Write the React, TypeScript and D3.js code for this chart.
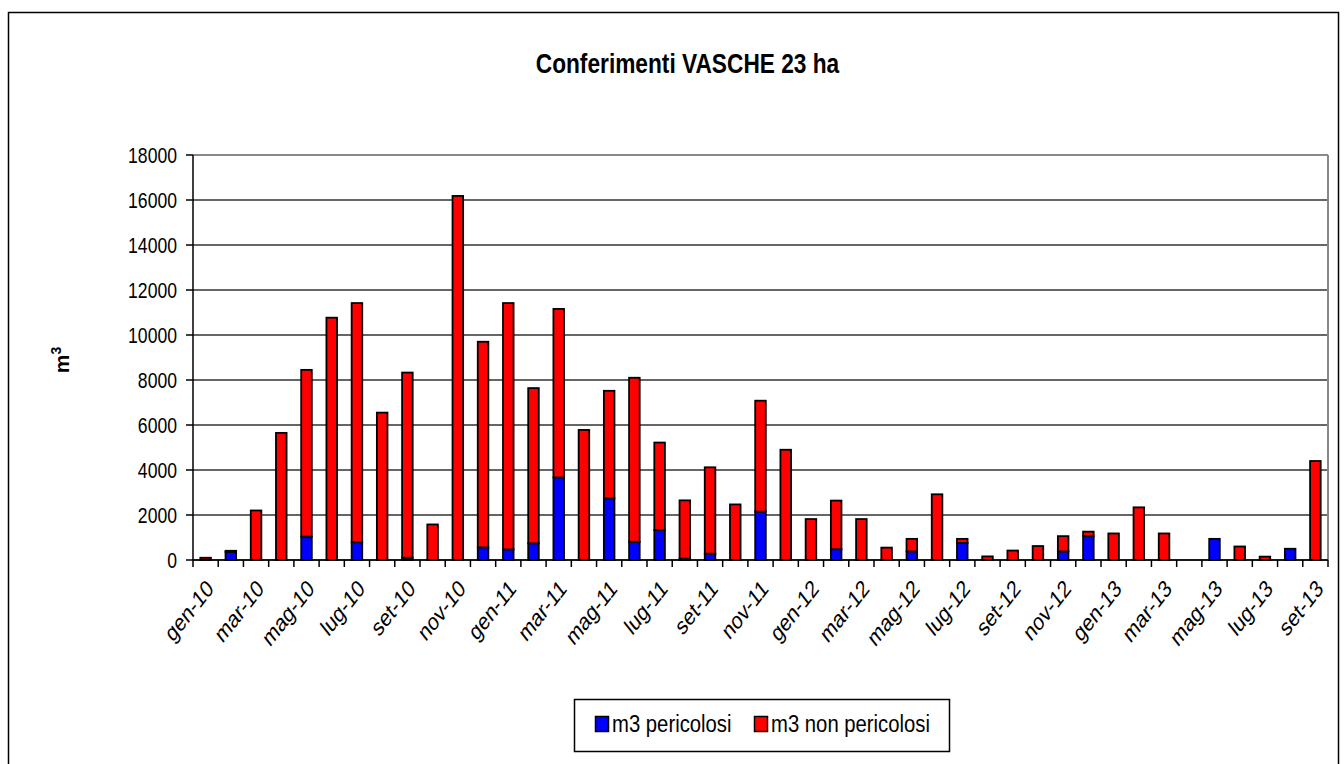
import React from "react";
import * as d3 from "d3";

const months = [
  "gen-10","feb-10","mar-10","apr-10","mag-10","giu-10","lug-10","ago-10","set-10","ott-10","nov-10","dic-10",
  "gen-11","feb-11","mar-11","apr-11","mag-11","giu-11","lug-11","ago-11","set-11","ott-11","nov-11","dic-11",
  "gen-12","feb-12","mar-12","apr-12","mag-12","giu-12","lug-12","ago-12","set-12","ott-12","nov-12","dic-12",
  "gen-13","feb-13","mar-13","apr-13","mag-13","giu-13","lug-13","ago-13","set-13",
];

const pericolosi = [
  0, 360, 0, 0, 1040, 0, 790, 0, 100, 0, 0, 560,
  470, 740, 3670, 0, 2740, 810, 1330, 60, 280, 0, 2150, 0,
  0, 480, 0, 0, 380, 0, 760, 0, 0, 0, 380, 1060,
  0, 0, 0, 0, 940, 0, 0, 500, 0,
];

const nonPericolosi = [
  100, 50, 2200, 5650, 7410, 10770, 10630, 6550, 8230, 1580, 16180, 9140,
  10950, 6900, 7490, 5780, 4780, 7290, 3890, 2590, 3840, 2470, 4930, 4900,
  1820, 2160, 1820, 550, 560, 2920, 180, 160, 420, 620, 680, 200,
  1180, 2340, 1180, 0, 0, 600, 150, 0, 4400,
];

const yTicks = [0, 2000, 4000, 6000, 8000, 10000, 12000, 14000, 16000, 18000];
const seriesNames = ["m3 pericolosi", "m3 non pericolosi"];
const seriesColors = ["#0000ff", "#ff0000"];

export default function App() {
  const W = 1344, H = 764;
  const left = 193, right = 1328, top = 155, bottom = 560;
  const font = "'Liberation Sans', Arial, sans-serif";
  const sy = 1.27;

  const x = d3.scaleBand<string>().domain(months).range([left, right]).paddingInner(0.58).paddingOuter(0.29);
  const y = d3.scaleLinear().domain([0, 18000]).range([bottom, top]);

  const rows = months.map((m, i) => ({ m, p: pericolosi[i], n: nonPericolosi[i] }));
  const stack = d3.stack<any>().keys(["p", "n"])(rows);

  const step = x.step();
  const boundaries = d3.range(months.length + 1).map((i) => left + i * step);

  return (
    <svg width={W} height={H} style={{ position: "absolute", left: 0, top: 0, background: "#fff" }}>
      <rect x={8.5} y={12.5} width={1330} height={800} fill="#fff" stroke="#000" strokeWidth={1.5} />
      <text textAnchor="middle" fontFamily={font} fontWeight="bold" fontSize={22.7}
        transform={`translate(687.5,73) scale(1,1.25)`}>
        Conferimenti VASCHE 23 ha
      </text>

      {/* gridlines */}
      {yTicks.map((t) => (
        <line key={"g" + t} x1={left} x2={right} y1={y(t)} y2={y(t)}
          stroke={t === 18000 ? "#888" : "#333"} strokeWidth={t === 18000 ? 2 : 1.5} />
      ))}
      <line x1={right} x2={right} y1={top} y2={bottom} stroke="#888" strokeWidth={2} />

      {/* bars */}
      {stack.map((s, si) => (
        <g key={si}>
          {s.map((d, i) => {
            const h = y(d[0]) - y(d[1]);
            if (h <= 0) return null;
            return (
              <rect key={i} x={x(months[i])} y={y(d[1])} width={x.bandwidth()} height={h}
                fill={seriesColors[si]} stroke="#000" strokeWidth={1.8} />
            );
          })}
        </g>
      ))}

      {/* axes */}
      <line x1={left} x2={left} y1={top} y2={bottom} stroke="#000" strokeWidth={1.5} />
      <line x1={left} x2={right} y1={bottom} y2={bottom} stroke="#000" strokeWidth={1.5} />
      {yTicks.map((t) => (
        <g key={"t" + t}>
          <line x1={left - 7} x2={left} y1={y(t)} y2={y(t)} stroke="#000" strokeWidth={1.5} />
          <text textAnchor="end" fontFamily={font} fontSize={17.6}
            transform={`translate(177,${y(t) + 8}) scale(1,${sy})`}>
            {t}
          </text>
        </g>
      ))}
      {boundaries.map((b, i) => (
        <line key={"b" + i} x1={b} x2={b} y1={bottom} y2={bottom + 7} stroke="#000" strokeWidth={1.5} />
      ))}
      {months.map((m, i) =>
        i % 2 === 0 ? (
          <text key={"l" + i} fontFamily={font} fontSize={19} textAnchor="end"
            transform={`translate(${(x(m) as number) + x.bandwidth() / 2 + 9},${bottom + 30}) scale(1,${sy}) rotate(-45)`}>
            {m}
          </text>
        ) : null
      )}

      <text fontFamily={font} fontWeight="bold" fontSize={21} textAnchor="middle"
        transform="translate(69,360) rotate(-90)">
        m<tspan dy={-8} fontSize={14}>3</tspan>
      </text>

      {/* legend */}
      <rect x={574.5} y={699.5} width={375} height={52} fill="#fff" stroke="#000" strokeWidth={1.5} />
      {seriesNames.map((n, i) => {
        const lx = i === 0 ? 595 : 754;
        return (
          <g key={n}>
            <rect x={lx + 0.5} y={716.5} width={13} height={15} fill={seriesColors[i]} stroke="#000" strokeWidth={1.5} />
            <text fontFamily={font} fontSize={20.3}
              transform={`translate(${lx + 17},732) scale(1,1.15)`}>{n}</text>
          </g>
        );
      })}
    </svg>
  );
}
